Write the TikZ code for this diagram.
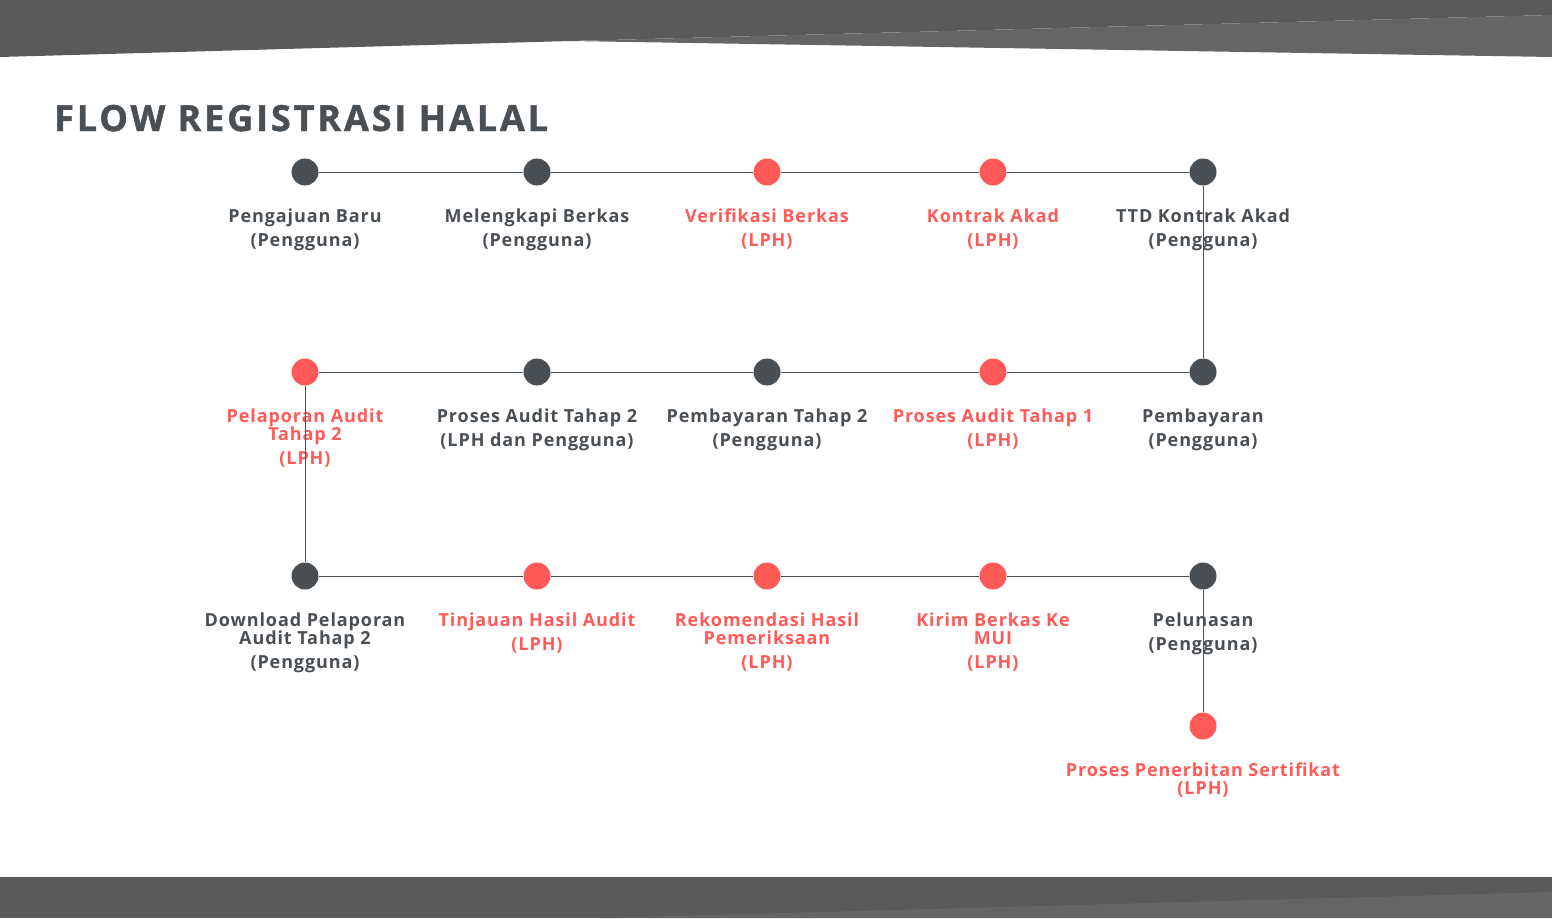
\documentclass[tikz,border=0pt]{standalone}
\usepackage{fontspec}
\setmainfont{Open Sans}
\newfontfamily\lblfont[LetterSpace=5]{Open Sans}
\newfontfamily\ttlfont[LetterSpace=8,FakeBold=1.2]{Open Sans}
\definecolor{darkc}{HTML}{4A4F54}
\definecolor{redc}{HTML}{FF5A57}
\definecolor{banddark}{HTML}{5A5A5A}
\definecolor{bandlight}{HTML}{656565}
\newcommand\lstrut{\rule{0pt}{14pt}}
\tikzset{
  dot/.style={circle,inner sep=0pt,minimum size=27pt,fill=#1},
  lbl/.style={anchor=north,inner sep=0pt,align=center,text=#1,
    font=\lblfont\bfseries\fontsize{18}{24}\selectfont},
  link/.style={draw=darkc,line width=1pt},
}
\begin{document}
\begin{tikzpicture}[x=1pt,y=-1pt]
\useasboundingbox (0,0) rectangle (1552,918);
% bands
\fill[banddark] (0,0) -- (1552,0) -- (1552,15) -- (570,41) -- (0,57) -- cycle;
\fill[bandlight] (570,41) -- (1552,15) -- (1552,57) -- cycle;
\fill[banddark] (0,877) rectangle (1552,918);
\fill[bandlight] (600,918) -- (1552,892) -- (1552,918) -- cycle;
% title
\node[anchor=base west,inner sep=0pt,text=darkc,font=\ttlfont\bfseries\fontsize{36}{40}\selectfont] (title) at (54,131) {FLOW REGISTRASI HALAL};
% dots
\path
 (305,172) coordinate (p11) (537,172) coordinate (p12) (767,172) coordinate (p13) (993,172) coordinate (p14) (1203,172) coordinate (p15)
 (305,372) coordinate (p21) (537,372) coordinate (p22) (767,372) coordinate (p23) (993,372) coordinate (p24) (1203,372) coordinate (p25)
 (305,576) coordinate (p31) (537,576) coordinate (p32) (767,576) coordinate (p33) (993,576) coordinate (p34) (1203,576) coordinate (p35)
 (1203,726) coordinate (p45);
% labels
\node[lbl=darkc] (l11) at ([yshift=-36]p11) {\lstrut Pengajuan Baru\\(Pengguna)};
\node[lbl=darkc] (l12) at ([yshift=-36]p12) {\lstrut Melengkapi Berkas\\(Pengguna)};
\node[lbl=redc] (l13) at ([yshift=-36]p13) {\lstrut Verifikasi Berkas\\(LPH)};
\node[lbl=redc] (l14) at ([yshift=-36]p14) {\lstrut Kontrak Akad\\(LPH)};
\node[lbl=darkc] (l15) at ([yshift=-36]p15) {\lstrut TTD Kontrak Akad\\(Pengguna)};
\node[lbl=redc] (l21) at ([yshift=-36]p21) {\lstrut Pelaporan Audit\\[-6pt]Tahap 2\\(LPH)};
\node[lbl=darkc] (l22) at ([yshift=-36]p22) {\lstrut Proses Audit Tahap 2\\(LPH dan Pengguna)};
\node[lbl=darkc] (l23) at ([yshift=-36]p23) {\lstrut Pembayaran Tahap 2\\(Pengguna)};
\node[lbl=redc] (l24) at ([yshift=-36]p24) {\lstrut Proses Audit Tahap 1\\(LPH)};
\node[lbl=darkc] (l25) at ([yshift=-36]p25) {\lstrut Pembayaran\\(Pengguna)};
\node[lbl=darkc] (l31) at ([yshift=-36]p31) {\lstrut Download Pelaporan\\[-6pt]Audit Tahap 2\\(Pengguna)};
\node[lbl=redc] (l32) at ([yshift=-36]p32) {\lstrut Tinjauan Hasil Audit\\(LPH)};
\node[lbl=redc] (l33) at ([yshift=-36]p33) {\lstrut Rekomendasi Hasil\\[-6pt]Pemeriksaan\\(LPH)};
\node[lbl=redc] (l34) at ([yshift=-36]p34) {\lstrut Kirim Berkas Ke\\[-6pt]MUI\\(LPH)};
\node[lbl=darkc] (l35) at ([yshift=-36]p35) {\lstrut Pelunasan\\(Pengguna)};
\node[lbl=redc] (l45) at ([yshift=-36]p45) {\lstrut Proses Penerbitan Sertifikat\\[-6pt](LPH)};
% dot nodes
\node[dot=darkc] (n11) at (p11) {};
\node[dot=darkc] (n12) at (p12) {};
\node[dot=redc] (n13) at (p13) {};
\node[dot=redc] (n14) at (p14) {};
\node[dot=darkc] (n15) at (p15) {};
\node[dot=redc] (n21) at (p21) {};
\node[dot=darkc] (n22) at (p22) {};
\node[dot=darkc] (n23) at (p23) {};
\node[dot=redc] (n24) at (p24) {};
\node[dot=darkc] (n25) at (p25) {};
\node[dot=darkc] (n31) at (p31) {};
\node[dot=redc] (n32) at (p32) {};
\node[dot=redc] (n33) at (p33) {};
\node[dot=redc] (n34) at (p34) {};
\node[dot=darkc] (n35) at (p35) {};
\node[dot=redc] (n45) at (p45) {};
% connectors
\draw[link] (n11) -- (n12); \draw[link] (n12) -- (n13); \draw[link] (n13) -- (n14); \draw[link] (n14) -- (n15);
\draw[link] (n15) -- (n25);
\draw[link] (n25) -- (n24); \draw[link] (n24) -- (n23); \draw[link] (n23) -- (n22); \draw[link] (n22) -- (n21);
\draw[link] (n21) -- (n31);
\draw[link] (n31) -- (n32); \draw[link] (n32) -- (n33); \draw[link] (n33) -- (n34); \draw[link] (n34) -- (n35);
\draw[link] (n35) -- (n45);
\end{tikzpicture}
\end{document}
